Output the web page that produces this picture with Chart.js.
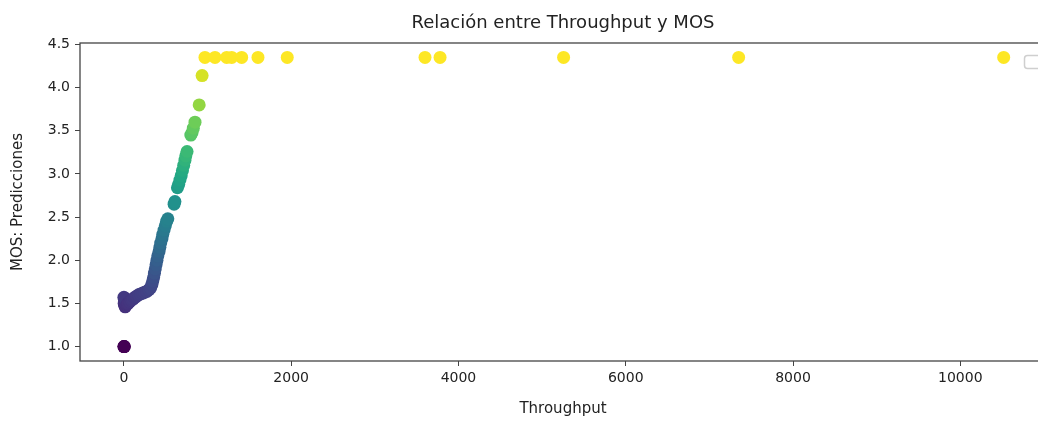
<!DOCTYPE html>
<html>
<head>
<meta charset="utf-8">
<script src="https://cdn.jsdelivr.net/npm/chart.js@4.4.1/dist/chart.umd.min.js"></script>
<style>
  html, body { margin: 0; padding: 0; background: #fff; overflow: hidden; }
  canvas { display: block; }
</style>
</head>
<body>
<canvas id="mosChart" width="1100" height="421"></canvas>
<script>
// Throughput vs predicted MOS
const throughput = [
    0, 2, 5,
    0, 5, 10, 3, 8, 15, 20, 25, 30, 12, 40, 50,
    70, 90, 110, 130, 150, 175, 200, 225, 250, 275, 300, 320,
    335, 345, 355, 365, 375, 385, 395, 405, 420, 430, 440, 455, 465, 480, 495, 510, 525,
    600, 610, 640, 655, 670, 685, 700, 715, 730, 740, 755, 800, 815, 830, 850, 900, 935,
    969, 1089, 1229, 1289, 1408, 1603, 1953, 3600, 3780, 5257, 7350, 10519
];
const mos = [
    1.00, 1.00, 1.00,
    1.57, 1.55, 1.52, 1.50, 1.48, 1.46, 1.47, 1.50, 1.53, 1.56, 1.49, 1.50,
    1.52, 1.54, 1.55, 1.57, 1.58, 1.60, 1.61, 1.62, 1.63, 1.64, 1.66, 1.68,
    1.72, 1.76, 1.80, 1.85, 1.90, 1.95, 2.00, 2.05, 2.10, 2.15, 2.20, 2.25, 2.30, 2.35, 2.40, 2.45, 2.48,
    2.65, 2.68, 2.84, 2.88, 2.93, 2.98, 3.04, 3.10, 3.16, 3.21, 3.26, 3.45, 3.48, 3.53, 3.60, 3.80, 4.14,
    4.35, 4.35, 4.35, 4.35, 4.35, 4.35, 4.35, 4.35, 4.35, 4.35, 4.35, 4.35
];
const xTicks = [0, 2000, 4000, 6000, 8000, 10000];
const yTicks = [1.0, 1.5, 2.0, 2.5, 3.0, 3.5, 4.0, 4.5];

// viridis colour map
const viridis = ['#440154', '#482475', '#414487', '#355f8d', '#2a788e', '#21918c',
                 '#22a884', '#44bf70', '#7ad151', '#bddf26', '#fde725'];
function hexToRgb(h) {
    return [parseInt(h.slice(1, 3), 16), parseInt(h.slice(3, 5), 16), parseInt(h.slice(5, 7), 16)];
}
function viridisColor(t) {
    t = Math.max(0, Math.min(1, t));
    const pos = t * (viridis.length - 1);
    const i = Math.min(Math.floor(pos), viridis.length - 2);
    const f = pos - i;
    const a = hexToRgb(viridis[i]), b = hexToRgb(viridis[i + 1]);
    const c = a.map((v, k) => Math.round(v + (b[k] - v) * f));
    return 'rgb(' + c.join(',') + ')';
}
const mosMin = Math.min(...mos), mosMax = Math.max(...mos);
const pointColors = mos.map(v => viridisColor((v - mosMin) / (mosMax - mosMin)));

const points = throughput.map((x, i) => ({ x: x, y: mos[i] }));

const FONT = "'DejaVu Sans', sans-serif";

const framePlugin = {
    id: 'frame',
    afterDraw(chart) {
        const { ctx, chartArea } = chart;
        ctx.save();
        ctx.strokeStyle = '#444';
        ctx.lineWidth = 1.3;
        ctx.strokeRect(chartArea.left, chartArea.top, chartArea.right - chartArea.left, chartArea.bottom - chartArea.top);
        // empty legend box (upper right)
        ctx.strokeStyle = '#cfcfcf';
        ctx.lineWidth = 1.5;
        ctx.beginPath();
        ctx.roundRect(1024.5, 55.5, 20, 13, 3);
        ctx.stroke();
        // title
        ctx.fillStyle = '#222';
        ctx.font = "18px " + FONT;
        ctx.textAlign = 'center';
        ctx.textBaseline = 'middle';
        ctx.fillText('Relación entre Throughput y MOS', (chartArea.left + chartArea.right) / 2, 23);
        ctx.restore();
    }
};

new Chart(document.getElementById('mosChart').getContext('2d'), {
    type: 'scatter',
    data: {
        datasets: [{
            data: points,
            backgroundColor: pointColors,
            borderWidth: 0,
            pointRadius: 6.5,
            pointHoverRadius: 6.5
        }]
    },
    options: {
        responsive: false,
        animation: false,
        devicePixelRatio: 1,
        layout: { padding: { top: 43, right: 54, left: 0, bottom: 0 } },
        plugins: {
            legend: { display: false },
            tooltip: { enabled: false }
        },
        scales: {
            x: {
                type: 'linear',
                min: -525,
                max: 11025,
                afterBuildTicks: s => { s.ticks = xTicks.map(v => ({ value: v })); },
                afterFit: s => { s.height = 60; },
                grid: { drawOnChartArea: false, drawTicks: true, tickLength: 5, color: '#444' },
                border: { display: false },
                ticks: { color: '#222', font: { family: FONT, size: 14 }, padding: 4, maxRotation: 0,
                         callback: v => String(v) },
                title: { display: true, text: 'Throughput', color: '#222',
                         font: { family: FONT, size: 15 }, padding: { top: 0, bottom: 3 } }
            },
            y: {
                type: 'linear',
                min: 0.8325,
                max: 4.5175,
                afterBuildTicks: s => { s.ticks = yTicks.map(v => ({ value: v })); },
                afterFit: s => { s.width = 80; },
                grid: { drawOnChartArea: false, drawTicks: true, tickLength: 5, color: '#444' },
                border: { display: false },
                ticks: { color: '#222', font: { family: FONT, size: 14 }, padding: 5,
                         callback: v => v.toFixed(1) },
                title: { display: true, text: 'MOS: Predicciones', color: '#222',
                         font: { family: FONT, size: 15 }, padding: { top: 9, bottom: 0 } }
            }
        }
    },
    plugins: [framePlugin]
});
</script>
</body>
</html>
